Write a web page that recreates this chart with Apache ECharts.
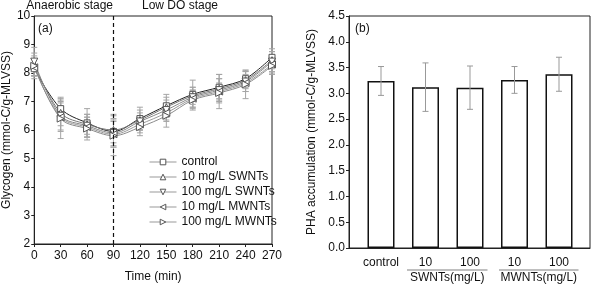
<!DOCTYPE html>
<html><head><meta charset="utf-8">
<script src="https://cdn.jsdelivr.net/npm/echarts@6/dist/echarts.min.js"></script>
<style>html,body{margin:0;padding:0;background:#fff}#c{width:592px;height:288px}</style>
</head><body><div id="c"></div>
<script>
// ---- data ----
var times = [0,30,60,90,120,150,180,210,240,270];
var seriesNames = ['control','10 mg/L SWNTs','100 mg/L SWNTs','10 mg/L MWNTs','100 mg/L MWNTs'];
var glyControl = [8.15,6.75,6.25,5.95,6.40,6.85,7.25,7.50,7.80,8.55];
var gly10S     = [8.30,6.60,6.20,6.00,6.35,6.80,7.20,7.45,7.75,8.45];
var gly100S    = [8.40,6.50,6.15,5.90,6.30,6.70,7.15,7.40,7.70,8.40];
var gly10M     = [8.20,6.45,6.10,5.85,6.20,6.60,7.10,7.35,7.65,8.30];
var gly100M    = [8.25,6.40,6.05,5.80,6.10,6.50,7.05,7.30,7.60,8.25];
var errControl = [0.35,0.40,0.50,0.40,0.40,0.40,0.50,0.45,0.30,0.30];
var err10S     = [0.40,0.45,0.35,0.55,0.35,0.35,0.30,0.35,0.30,0.30];
var err100S    = [0.50,0.50,0.40,0.50,0.30,0.35,0.35,0.40,0.35,0.35];
var err10M     = [0.30,0.50,0.35,0.45,0.30,0.30,0.30,0.60,0.30,0.30];
var err100M    = [0.35,0.70,0.40,0.70,0.30,0.40,0.35,0.35,0.50,0.30];
var xTicks = [0,30,60,90,120,150,180,210,240,270];
var phaCats = ['control','10','100','10','100'];
var phaValues = [3.24,3.12,3.11,3.26,3.37];
var phaErr = [0.28,0.47,0.42,0.26,0.33];
var groupLabels = ['SWNTs(mg/L)','MWNTs(mg/L)'];
var stageLabels = ['Anaerobic stage','Low DO stage'];
var panelLabels = ['(a)','(b)'];

var glyData = [glyControl,gly10S,gly100S,gly10M,gly100M];
var glyErr = [errControl,err10S,err100S,err10M,err100M];
var symbols = ['rect','triangle','triangle','triangle','triangle'];
var rotations = [0,0,180,90,-90];
var lineColors = ['#222','#777','#888','#999','#8a8a8a'];

var FONT = 'Liberation Sans, Arial, sans-serif';
var TXT = '#111';

function makeErr(color){
  return function(params, api){
    var x = api.value(0), lo = api.value(1), hi = api.value(2);
    var pHi = api.coord([x, hi]), pLo = api.coord([x, lo]);
    var w = 3;
    var st = {stroke:color, lineWidth:1, fill:null};
    return {type:'group', children:[
      {type:'line', shape:{x1:pHi[0],y1:pHi[1],x2:pLo[0],y2:pLo[1]}, style:st},
      {type:'line', shape:{x1:pHi[0]-w,y1:pHi[1],x2:pHi[0]+w,y2:pHi[1]}, style:st},
      {type:'line', shape:{x1:pLo[0]-w,y1:pLo[1],x2:pLo[0]+w,y2:pLo[1]}, style:st}
    ]};
  };
}

var series = [];
glyData.forEach(function(d, i){
  series.push({type:'custom', xAxisIndex:0, yAxisIndex:0, renderItem:makeErr('#a5a5a5'), silent:true, z:1,
    data: times.map(function(t,j){ return [t, d[j]-glyErr[i][j], d[j]+glyErr[i][j]]; })});
});
glyData.forEach(function(d, i){
  var s = {type:'line', name:seriesNames[i], xAxisIndex:0, yAxisIndex:0, smooth:0.35, z:3,
    data: times.map(function(t,j){ return [t, d[j]]; }),
    symbol: symbols[i], symbolSize: i===0?6:7, symbolRotate: rotations[i], showAllSymbol:true,
    lineStyle:{color:lineColors[i], width:1},
    itemStyle:{color:'#fff', borderColor:'#555', borderWidth:1}};
  if(i===0){
    s.markLine = {silent:true, symbol:'none', label:{show:false},
      lineStyle:{color:'#111', type:[4,3], width:1.2}, data:[{xAxis:90}]};
  }
  series.push(s);
});
series.push({type:'bar', xAxisIndex:2, yAxisIndex:2, data:phaValues, barWidth:27, z:2,
  itemStyle:{color:'#fff', borderColor:'#111', borderWidth:1.5}});
series.push({type:'custom', xAxisIndex:2, yAxisIndex:2, renderItem:makeErr('#999'), silent:true, z:4,
  data: phaValues.map(function(v,i){ return [i, v-phaErr[i], v+phaErr[i]]; })});

var axisLineStyle = {color:'#222', width:1};
var tStyle = {color:TXT, fontSize:12, fontWeight:'normal', fontFamily:FONT};
var option = {
  animation:false,
  textStyle:{fontFamily:FONT},
  title:[
    {text:stageLabels[0], right:479, top:0, padding:0, textStyle:tStyle},
    {text:stageLabels[1], left:142, top:0, padding:0, textStyle:tStyle},
    {text:panelLabels[0], left:38, top:23, padding:0, textStyle:tStyle},
    {text:panelLabels[1], left:355, top:23, padding:0, textStyle:tStyle}
  ],
  grid:[
    {left:32, top:16, width:240, height:232, show:true, borderColor:'#222', borderWidth:1, backgroundColor:'transparent'},
    {left:349, top:16, width:241, height:232, show:true, borderColor:'#222', borderWidth:1, backgroundColor:'transparent'},
    {left:358.75, top:16, width:222.5, height:232}
  ],
  xAxis:[
    {type:'value', gridIndex:0, min:0, max:270, interval:30,
      axisLine:{lineStyle:axisLineStyle}, axisTick:{show:true, length:3, lineStyle:axisLineStyle},
      axisLabel:{color:TXT, fontSize:12, margin:6, fontFamily:FONT, formatter:function(v){return xTicks.indexOf(v)>=0?String(v):'';}},
      splitLine:{show:false},
      name:'Time (min)', nameLocation:'middle', nameGap:27, nameTextStyle:{color:TXT, fontSize:12, fontFamily:FONT}},
    {type:'value', gridIndex:1, min:0, max:1, axisLine:{lineStyle:axisLineStyle}, axisTick:{show:false},
      axisLabel:{show:false}, splitLine:{show:false}},
    {type:'category', gridIndex:2, data:phaCats, axisLine:{show:false}, axisTick:{show:false},
      axisLabel:{color:TXT, fontSize:12, margin:9, interval:0, fontFamily:FONT}}
  ],
  yAxis:[
    {type:'value', gridIndex:0, min:2, max:10, interval:1,
      axisLine:{show:true, lineStyle:axisLineStyle}, axisTick:{show:true, length:3, lineStyle:axisLineStyle},
      axisLabel:{color:TXT, fontSize:12, margin:4, fontFamily:FONT}, splitLine:{show:false},
      name:'Glycogen (mmol-C/g-MLVSS)', nameLocation:'middle', nameGap:17, nameTextStyle:{color:TXT, fontSize:12, fontFamily:FONT}},
    {type:'value', gridIndex:1, min:0, max:4.5, interval:0.5,
      axisLine:{show:true, lineStyle:axisLineStyle}, axisTick:{show:true, length:3, lineStyle:axisLineStyle},
      axisLabel:{color:TXT, fontSize:12, margin:4, fontFamily:FONT, formatter:function(v){return v.toFixed(1);}}, splitLine:{show:false},
      name:'PHA accumulation (mmol-C/g-MLVSS)', nameLocation:'middle', nameGap:31, nameTextStyle:{color:TXT, fontSize:12, fontFamily:FONT}},
    {type:'value', gridIndex:2, min:0, max:4.5, show:false}
  ],
  legend:{data:seriesNames, orient:'vertical', left:144, top:150, itemWidth:27, itemHeight:7, itemGap:1,
    itemStyle:{color:'#fff', borderColor:'#555', borderWidth:1},
    lineStyle:{color:'#999', width:1},
    textStyle:{color:TXT, fontSize:12, fontFamily:FONT, lineHeight:14}},
  series:series
};
var chart = echarts.init(document.getElementById('c'), null, {renderer:'canvas'});
chart.setOption(option);

var p = function(i, v){ return chart.convertToPixel({xAxisIndex:2, yAxisIndex:2}, [i, v]); };
var halfBar = 13.5;
var g1a = p(1,0)[0]-halfBar-5, g1b = p(2,0)[0]+halfBar+4;
var g2a = p(3,0)[0]-halfBar-2, g2b = p(4,0)[0]+halfBar+6;
var lineY = 270;
chart.setOption({graphic:[
  {type:'line', shape:{x1:g1a, y1:lineY, x2:g1b, y2:lineY}, style:{stroke:'#aaa', lineWidth:1.5}},
  {type:'line', shape:{x1:g2a, y1:lineY, x2:g2b, y2:lineY}, style:{stroke:'#aaa', lineWidth:1.5}},
  {type:'text', x:(g1a+g1b)/2, y:278, style:{text:groupLabels[0], font:'12px '+FONT, fill:TXT, align:'center', verticalAlign:'middle'}},
  {type:'text', x:(g2a+g2b)/2, y:278, style:{text:groupLabels[1], font:'12px '+FONT, fill:TXT, align:'center', verticalAlign:'middle'}}
]});
</script></body></html>
